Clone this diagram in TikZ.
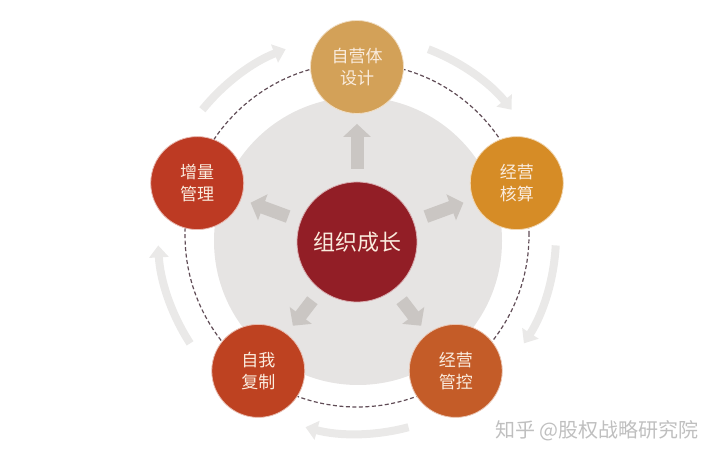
\documentclass[tikz,border=0pt]{standalone}
\usepackage{fontspec}
\setmainfont{Noto Sans CJK SC}
\usepackage{tikz}
\usetikzlibrary{arrows.meta,calc}

\definecolor{ringgray}{RGB}{230,228,227}
\definecolor{flowgray}{RGB}{234,233,232}
\definecolor{pushgray}{RGB}{202,198,195}
\definecolor{ctrred}{RGB}{146,30,38}
\definecolor{goldtan}{RGB}{211,161,88}
\definecolor{amber}{RGB}{214,140,38}
\definecolor{rust}{RGB}{196,92,40}
\definecolor{brick}{RGB}{190,66,33}
\definecolor{vermil}{RGB}{189,58,35}
\definecolor{dashline}{RGB}{96,76,86}
\definecolor{cream}{RGB}{250,236,222}

\tikzset{
  stage/.style={circle,minimum size=93pt,inner sep=0pt,align=center,text=cream,
    font=\fontsize{17}{22}\selectfont,fill=#1,draw=white!65!#1,line width=0.8pt},
  push/.style={draw=pushgray,line width=13pt,-{Triangle[length=13pt,width=27pt]},
    shorten <=13pt,shorten >=10pt},
  flow/.style={draw=flowgray,line width=8pt,-{Triangle[length=12pt,width=19pt]}},
}

\begin{document}
\begin{tikzpicture}[x=1pt,y=1pt]
  \useasboundingbox (0,0) rectangle (720,462);

  \begin{scope}[shift={(357,227)}]
    % backdrop
    \fill[ringgray] (1,-6) circle (144);
    \draw[dashline,line width=1.2pt,dash pattern=on 4pt off 2.5pt] (0,0) circle (172);

    % cycle arrows
    \foreach \a in {126,54,-18,-90,-162}
      \draw[flow] (\a+15:199) arc (\a+15:\a-15:199);

    % stages
    \node[stage=ctrred,minimum size=120pt,font=\fontsize{22}{26}\selectfont] (ctr) at (0,-7) {组织成长};
    \node[stage=goldtan] (design) at (90:168) {自营体\\设计};
    \node[stage=amber] (account) at (18:168) {经营\\核算};
    \node[stage=rust] (control) at (-54:168) {经营\\管控};
    \node[stage=brick] (copy) at (-126:168) {自我\\复制};
    \node[stage=vermil] (growth) at (162:168) {增量\\管理};

    \foreach \n in {design,account,control,copy,growth}
      \draw[push] (ctr) -- (\n);
  \end{scope}

  \node[text=gray!50,font=\fontsize{20}{20}\selectfont,anchor=east] (mark) at (702,31) {知乎\ @股权战略研究院};
\end{tikzpicture}
\end{document}
